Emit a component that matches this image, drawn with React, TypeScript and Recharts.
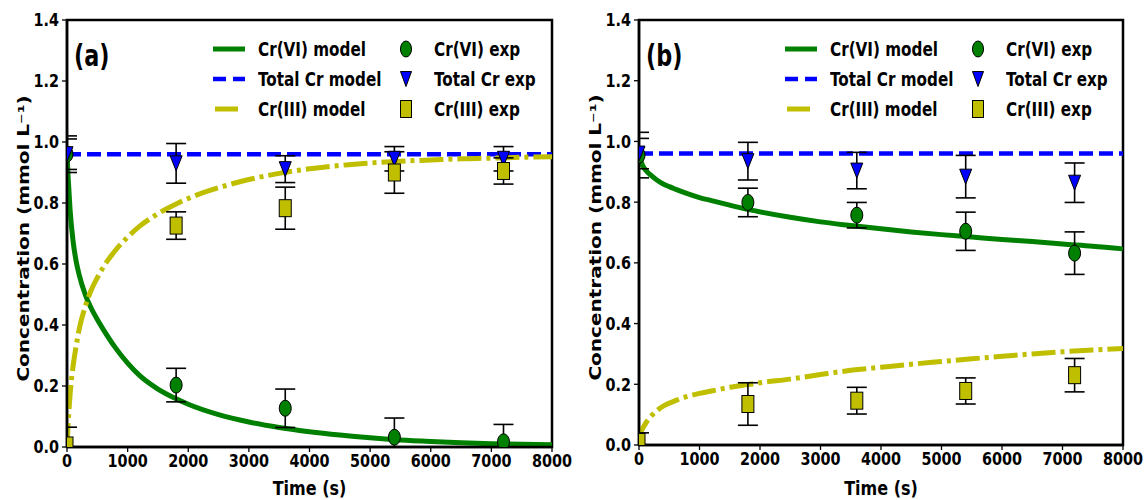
import React from 'react';
import { ComposedChart, Line, Scatter, XAxis, YAxis, ErrorBar, ReferenceArea, Legend } from 'recharts';

// model curves, sampled at these times (s)
const modelTimes = [0, 20, 50, 100, 150, 200, 300, 400, 500, 600, 800, 1000, 1200, 1500, 1800, 2000, 2500, 3000, 3500, 4000, 4500, 5000, 5500, 6000, 6500, 7000, 7500, 8000];
const cr6ModelA = [0.96, 0.88, 0.78, 0.675, 0.61, 0.565, 0.5, 0.455, 0.418, 0.385, 0.325, 0.275, 0.234, 0.19, 0.158, 0.14, 0.106, 0.082, 0.064, 0.05, 0.039, 0.03, 0.023, 0.018, 0.014, 0.011, 0.009, 0.007];
const cr3ModelA = [0.0, 0.08, 0.17, 0.265, 0.33, 0.385, 0.46, 0.515, 0.555, 0.59, 0.645, 0.688, 0.724, 0.765, 0.797, 0.815, 0.85, 0.877, 0.897, 0.912, 0.923, 0.931, 0.937, 0.941, 0.945, 0.947, 0.95, 0.952];
const cr6ModelB = [0.96, 0.945, 0.925, 0.908, 0.897, 0.888, 0.872, 0.86, 0.851, 0.843, 0.828, 0.815, 0.805, 0.79, 0.776, 0.768, 0.75, 0.735, 0.723, 0.712, 0.702, 0.693, 0.685, 0.677, 0.67, 0.662, 0.655, 0.646];
const cr3ModelB = [0.01, 0.035, 0.05, 0.068, 0.083, 0.095, 0.114, 0.128, 0.138, 0.146, 0.16, 0.17, 0.178, 0.19, 0.199, 0.205, 0.217, 0.232, 0.246, 0.256, 0.266, 0.275, 0.284, 0.292, 0.3, 0.307, 0.313, 0.318];
const totalTimes = [0, 8000];
const totalModelA = [0.96, 0.96];
const totalModelB = [0.96, 0.96];

// experiments
const expTimes = [0, 1800, 3600, 5400, 7200];
const cr6ExpA = [0.96, 0.203, 0.127, 0.032, 0.017];
const cr6ErrA = [0.06, 0.055, 0.063, 0.063, 0.057];
const totExpA = [0.96, 0.93, 0.911, 0.945, 0.945];
const totErrA = [0.05, 0.065, 0.044, 0.04, 0.04];
const cr3ExpA = [0.005, 0.726, 0.783, 0.9, 0.905];
const cr3ErrA = [0.06, 0.045, 0.069, 0.068, 0.043];

const cr6ExpB = [0.955, 0.799, 0.757, 0.704, 0.632];
const cr6ErrB = [0.075, 0.047, 0.042, 0.063, 0.07];
const totExpB = [0.96, 0.935, 0.904, 0.884, 0.864];
const totErrB = [0.05, 0.062, 0.06, 0.07, 0.065];
const cr3ExpB = [0.01, 0.135, 0.146, 0.178, 0.23];
const cr3ErrB = [0.03, 0.07, 0.044, 0.043, 0.055];

const xTicks = [0, 1000, 2000, 3000, 4000, 5000, 6000, 7000, 8000];
const yTicks = [0, 0.2, 0.4, 0.6, 0.8, 1.0, 1.2, 1.4];

const GREEN = '#008000';
const BLUE = '#0000ff';
const YELLOW = '#bfbf00';
const FONT = "'DejaVu Sans', sans-serif";
const SQ = 0.8; // the source figure is squeezed horizontally

const curve = (ts: number[], vs: number[]) => ts.map((t, i) => ({ t, v: vs[i] }));
const points = (vs: number[], es: number[]) => expTimes.map((t, i) => ({ t, v: vs[i], err: es[i] }));

const Ellipse = (p: any) => <ellipse cx={p.cx} cy={p.cy} rx={6} ry={8} fill={GREEN} stroke="#000" strokeWidth={1} />;
const TriDown = (p: any) => (
  <path d={`M${p.cx - 6},${p.cy - 7.5}L${p.cx + 6},${p.cy - 7.5}L${p.cx},${p.cy + 7.5}Z`} fill={BLUE} stroke="#000" strokeWidth={1} />
);
const Square = (p: any) => <rect x={p.cx - 6} y={p.cy - 8.5} width={12} height={17} fill={YELLOW} stroke="#000" strokeWidth={1} />;

const XTick = (p: any) => (
  <text transform={`translate(${p.x},${p.y}) scale(${SQ},1)`} textAnchor="middle" dy="0.76em"
    fill="#000" fontSize={18} fontWeight="bold" fontFamily={FONT}>{p.payload.value}</text>
);
const YTick = (p: any) => (
  <text transform={`translate(${p.x},${p.y}) scale(${SQ},1)`} textAnchor="end" dy="0.36em"
    fill="#000" fontSize={18} fontWeight="bold" fontFamily={FONT}>{Number(p.payload.value).toFixed(1)}</text>
);

const legendText: React.CSSProperties = {
  position: 'absolute', fontFamily: FONT, fontWeight: 'bold', fontSize: 19, lineHeight: '20px', color: '#000',
  whiteSpace: 'nowrap', transform: `scaleX(${SQ})`, transformOrigin: 'left center',
};

function LegendBox() {
  const rows = [
    { name: 'Cr(VI) model', exp: 'Cr(VI) exp', line: <line x1={0} y1={5} x2={32} y2={5} stroke={GREEN} strokeWidth={5} />, mark: <ellipse cx={6} cy={9} rx={5.5} ry={8} fill={GREEN} stroke="#000" /> },
    { name: 'Total Cr model', exp: 'Total Cr exp', line: <line x1={0} y1={5} x2={32} y2={5} stroke={BLUE} strokeWidth={4.5} strokeDasharray="13 7" />, mark: <path d="M0.5,1.5L11.5,1.5L6,16.5Z" fill={BLUE} stroke="#000" /> },
    { name: 'Cr(III) model', exp: 'Cr(III) exp', line: <line x1={2} y1={5} x2={25} y2={5} stroke={YELLOW} strokeWidth={5} />, mark: <rect x={0.5} y={0.5} width={11} height={17} fill={YELLOW} stroke="#000" /> },
  ];
  return (
    <div style={{ position: 'relative', width: 340, height: 92 }}>
      {rows.map((r, i) => (
        <React.Fragment key={r.name}>
          <svg style={{ position: 'absolute', left: 0, top: 10 + 30 * i }} width={34} height={10}>{r.line}</svg>
          <div style={{ ...legendText, left: 45, top: 5 + 30 * i }}>{r.name}</div>
          <svg style={{ position: 'absolute', left: 187, top: 6 + 30 * i }} width={13} height={19}>{r.mark}</svg>
          <div style={{ ...legendText, left: 221, top: 5 + 30 * i }}>{r.exp}</div>
        </React.Fragment>
      ))}
    </div>
  );
}

interface PanelProps {
  id: string; tag: string; left: number; width: number; right: number; xh: number;
  cr6: number[]; cr3: number[]; tot: number[];
  cr6e: number[]; cr6err: number[]; tote: number[]; toterr: number[]; cr3e: number[]; cr3err: number[];
}

function Panel(p: PanelProps) {
  const plotW = p.width - 67 - p.right;
  const plotH = 500 - 20 - p.xh;
  const clipId = `plot-clip-${p.id}`;
  return (
    <div className={`panel-${p.id}`} style={{ position: 'absolute', left: p.left, top: 0, width: p.width, height: 500 }}>
      <style>{`.panel-${p.id} .recharts-scatter, .panel-${p.id} .recharts-errorBars, .panel-${p.id} .recharts-errorBar { clip-path: url(#${clipId}); }`}</style>
      <svg width={0} height={0} style={{ position: 'absolute' }}>
        <defs>
          <clipPath id={clipId} clipPathUnits="userSpaceOnUse">
            <rect x={67} y={20} width={plotW} height={plotH} />
          </clipPath>
        </defs>
      </svg>
      <ComposedChart width={p.width} height={500} margin={{ top: 20, right: p.right, left: 0, bottom: 0 }}>
        <XAxis dataKey="t" type="number" domain={[0, 8000]} ticks={xTicks} allowDataOverflow height={p.xh}
          tick={<XTick />} tickSize={5} tickMargin={1} tickLine={{ stroke: '#000', strokeWidth: 1.3 }}
          axisLine={{ stroke: '#000', strokeWidth: 2.5 }}
          label={{
            content: (lp: any) => {
              const vb = lp.viewBox;
              const cx = vb.x + vb.width / 2, cy = 488;
              return (
                <text transform={`translate(${cx},${cy}) scale(${SQ},1)`} textAnchor="middle" dy="0.36em"
                  fill="#000" fontSize={20} fontWeight="bold" fontFamily={FONT}>Time (s)</text>
              );
            },
          }} />
        <YAxis type="number" domain={[0, 1.4]} ticks={yTicks} allowDataOverflow width={67}
          tick={<YTick />} tickSize={5} tickMargin={3} tickLine={{ stroke: '#000', strokeWidth: 1.3 }}
          axisLine={{ stroke: '#000', strokeWidth: 2.5 }}
          label={{
            content: (lp: any) => {
              const vb = lp.viewBox;
              const cx = vb.x + 23, cy = vb.y + vb.height / 2 + 5;
              return (
                <text transform={`translate(${cx},${cy}) scale(${SQ},1) rotate(-90)`} textAnchor="middle" dy="0.36em"
                  fill="#000" fontSize={20} fontWeight="bold" fontFamily={FONT}>Concentration (mmol L⁻¹)</text>
              );
            },
          }} />
        <ReferenceArea x1={0} x2={8000} y1={0} y2={1.4} fill="none" stroke="#000" strokeWidth={2.5} ifOverflow="visible" />
        <Line data={curve(modelTimes, p.cr6)} dataKey="v" type="monotone" stroke={GREEN} strokeWidth={5} dot={false} isAnimationActive={false} />
        <Line data={curve(totalTimes, p.tot)} dataKey="v" stroke={BLUE} strokeWidth={4.5} strokeDasharray="14 6" dot={false} isAnimationActive={false} />
        <Line data={curve(modelTimes, p.cr3)} dataKey="v" type="monotone" stroke={YELLOW} strokeWidth={5} strokeDasharray="24 5 4 5" dot={false} isAnimationActive={false} />
        <Scatter data={points(p.cr6e, p.cr6err)} dataKey="v" shape={Ellipse} isAnimationActive={false}>
          <ErrorBar dataKey="err" direction="y" width={10} stroke="#000" strokeWidth={1.6} />
        </Scatter>
        <Scatter data={points(p.tote, p.toterr)} dataKey="v" shape={TriDown} isAnimationActive={false}>
          <ErrorBar dataKey="err" direction="y" width={10} stroke="#000" strokeWidth={1.6} />
        </Scatter>
        <Scatter data={points(p.cr3e, p.cr3err)} dataKey="v" shape={Square} isAnimationActive={false}>
          <ErrorBar dataKey="err" direction="y" width={10} stroke="#000" strokeWidth={1.6} />
        </Scatter>
        <Legend layout="vertical" align="center" verticalAlign="middle" content={() => <LegendBox />}
          wrapperStyle={{ left: 146 + 67, top: 34, width: 340, height: 92 }} />
      </ComposedChart>
      <div style={{
        position: 'absolute', left: 74, top: 38, fontFamily: FONT, fontWeight: 'bold', fontSize: 31, lineHeight: '34px',
        color: '#000', transform: 'scaleX(0.72)', transformOrigin: 'left center',
      }}>{p.tag}</div>
    </div>
  );
}

export default function App() {
  return (
    <div style={{ position: 'absolute', left: 0, top: 0, width: 1144, height: 500, background: '#fff' }}>
      <Panel id="a" tag="(a)" left={0} width={580} right={28} xh={53}
        cr6={cr6ModelA} cr3={cr3ModelA} tot={totalModelA}
        cr6e={cr6ExpA} cr6err={cr6ErrA} tote={totExpA} toterr={totErrA} cr3e={cr3ExpA} cr3err={cr3ErrA} />
      <Panel id="b" tag="(b)" left={572} width={572} right={21} xh={55}
        cr6={cr6ModelB} cr3={cr3ModelB} tot={totalModelB}
        cr6e={cr6ExpB} cr6err={cr6ErrB} tote={totExpB} toterr={totErrB} cr3e={cr3ExpB} cr3err={cr3ErrB} />
    </div>
  );
}
